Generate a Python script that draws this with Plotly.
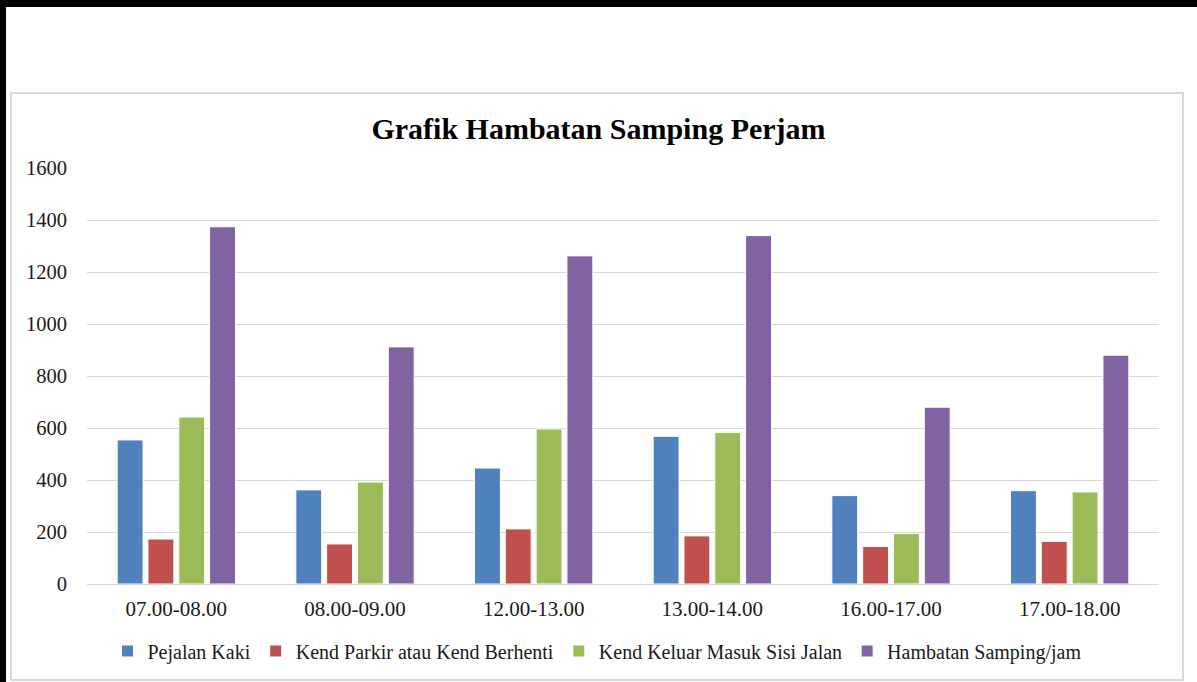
import plotly.graph_objects as go

categories = ["07.00-08.00", "08.00-09.00", "12.00-13.00", "13.00-14.00", "16.00-17.00", "17.00-18.00"]
pejalan_kaki = [554, 362, 446, 568, 340, 359]
kend_parkir = [173, 154, 212, 185, 144, 164]
kend_keluar_masuk = [642, 392, 596, 583, 194, 354]
hambatan_samping = [1374, 912, 1262, 1340, 680, 880]
series_names = ["Pejalan Kaki", "Kend Parkir atau Kend Berhenti", "Kend Keluar Masuk Sisi Jalan", "Hambatan Samping/jam"]
colors = ["#4F81BD", "#C0504D", "#9BBB59", "#8064A2"]
y_ticks = [0, 200, 400, 600, 800, 1000, 1200, 1400, 1600]

W, H = 1197, 682
L, R, T, B = 87, 1159, 168, 584  # plot area in pixels

fig = go.Figure()
for name, vals, col in zip(series_names, [pejalan_kaki, kend_parkir, kend_keluar_masuk, hambatan_samping], colors):
    fig.add_trace(go.Bar(x=categories, y=vals, name=name,
                         marker=dict(color=col, line=dict(color="white", width=1))))

def px_x(p):
    return (p - L) / (R - L)

def px_y(p):
    return (B - p) / (B - T)

FONT = "Liberation Serif, Times New Roman, serif"

shapes = [
    dict(type="rect", xref="paper", yref="paper", x0=px_x(11), x1=px_x(1183), y0=px_y(680), y1=px_y(93),
         line=dict(color="#d9d9d9", width=2), fillcolor="rgba(0,0,0,0)", layer="below"),
    dict(type="rect", xref="paper", yref="paper", x0=px_x(0), x1=px_x(W), y0=px_y(7), y1=px_y(0),
         line=dict(width=0), fillcolor="black"),
    dict(type="rect", xref="paper", yref="paper", x0=px_x(0), x1=px_x(6), y0=px_y(H), y1=px_y(0),
         line=dict(width=0), fillcolor="black"),
]

fig.update_layout(
    width=W, height=H,
    margin=dict(l=L, r=W - R, t=T, b=H - B, autoexpand=False),
    paper_bgcolor="white", plot_bgcolor="white",
    barmode="group", bargap=0.31, bargroupgap=0.16,
    font=dict(family=FONT, color="#1a1a1a", size=20),
    title=dict(text="<b>Grafik Hambatan Samping Perjam</b>", x=0.5, xanchor="center",
               y=1 - 128 / H, yanchor="middle", font=dict(family=FONT, size=30, color="#000000")),
    xaxis=dict(showgrid=False, showline=False, ticks="", tickfont=dict(size=21),
               ticklabelstandoff=10),
    yaxis=dict(range=[0, 1600], tickvals=y_ticks, showgrid=True, gridcolor="#d9d9d9", gridwidth=1,
               zeroline=True, zerolinecolor="#d9d9d9", zerolinewidth=1, showline=False, ticks="",
               tickfont=dict(size=20.5), ticklabelstandoff=19),
    legend=dict(orientation="h", x=px_x(597), xanchor="center", y=px_y(651), yanchor="middle",
                font=dict(family=FONT, size=20), traceorder="normal", itemwidth=30),
    shapes=shapes,
)

fig.write_html("out.html", config={"displayModeBar": False},
               post_script="document.body.style.margin='0';document.body.style.overflow='hidden';")
